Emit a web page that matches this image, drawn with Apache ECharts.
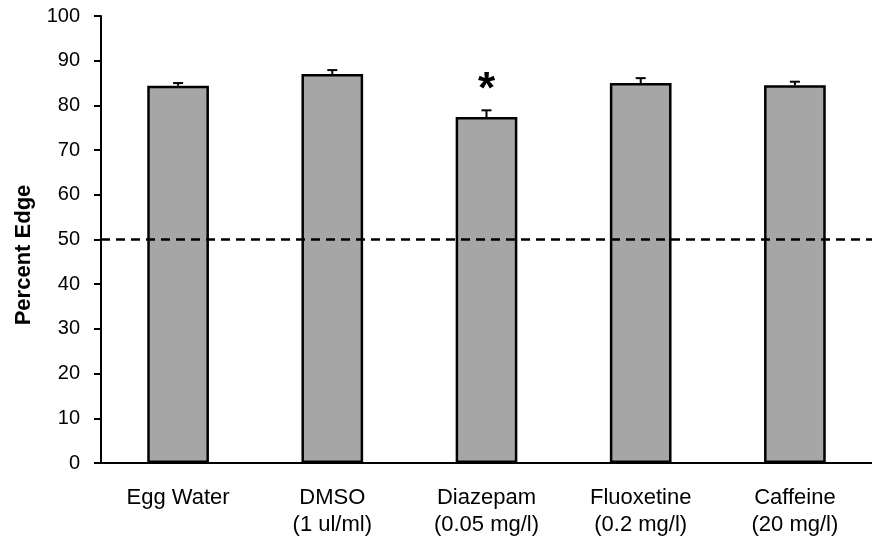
<!DOCTYPE html>
<html><head><meta charset="utf-8">
<script src="https://cdn.jsdelivr.net/npm/echarts@6/dist/echarts.min.js"></script>
<style>html,body{margin:0;padding:0;background:#fff}#c{width:872px;height:542px}</style>
</head><body><div id="c"></div>
<script>
const categories = ["Egg Water", "DMSO\n(1 ul/ml)", "Diazepam\n(0.05 mg/l)", "Fluoxetine\n(0.2 mg/l)", "Caffeine\n(20 mg/l)"];
const means = [84.4, 87.0, 77.4, 85.0, 84.5];
const errors = [0.6, 0.9, 1.5, 1.1, 0.8];
const marks = ["", "", "*", "", ""];
const chanceLevel = 50;
const yTicks = [0, 10, 20, 30, 40, 50, 60, 70, 80, 90, 100];
const yTitle = "Percent Edge";

const chart = echarts.init(document.getElementById('c'));
const font = 'Liberation Sans, Arial, sans-serif';
chart.setOption({
  animation: false,
  grid: { left: 101, right: -5, top: 16, bottom: 79, containLabel: false },
  graphic: [{
    type: 'text', x: 24, y: 255, rotation: Math.PI / 2,
    style: { text: yTitle, fill: '#000', font: 'bold 22px ' + font, align: 'center', verticalAlign: 'middle' }
  }],
  xAxis: {
    type: 'category', data: categories,
    axisLine: { lineStyle: { color: '#000', width: 2 } },
    axisTick: { length: 6, lineStyle: { color: '#000', width: 2 } },
    axisLabel: { color: '#000', fontFamily: font, fontSize: 22, lineHeight: 27, margin: 21 }
  },
  yAxis: {
    type: 'value', min: yTicks[0], max: yTicks[yTicks.length - 1], interval: 10,
    axisLine: { show: true, lineStyle: { color: '#000', width: 2 } },
    axisTick: { show: true, length: 7, lineStyle: { color: '#000', width: 2 } },
    axisLabel: { color: '#000', fontFamily: font, fontSize: 20, margin: 21 },
    splitLine: { show: false }
  },
  series: [
    {
      type: 'bar', data: means, barWidth: '40%',
      itemStyle: { color: '#a6a6a6', borderColor: '#000', borderWidth: 2.5 },
      markLine: {
        silent: true, symbol: 'none', label: { show: false },
        lineStyle: { color: '#000', width: 2.5, type: [9, 6] },
        data: [{ yAxis: chanceLevel }]
      }
    },
    {
      type: 'custom',
      data: means.map((m, i) => [i, m, errors[i]]),
      renderItem: function (params, api) {
        const i = api.value(0), m = api.value(1), e = api.value(2);
        const p0 = api.coord([i, m]);
        const p1 = api.coord([i, m + e]);
        const children = [
          { type: 'line', shape: { x1: p0[0], y1: p0[1], x2: p1[0], y2: p1[1] }, style: { stroke: '#000', lineWidth: 2 } },
          { type: 'line', shape: { x1: p1[0] - 5, y1: p1[1], x2: p1[0] + 5, y2: p1[1] }, style: { stroke: '#000', lineWidth: 2 } }
        ];
        if (marks[i]) {
          children.push({ type: 'text', x: p1[0], y: p1[1] - 19, style: { text: marks[i], fill: '#000', font: 'bold 44px ' + font, align: 'center', verticalAlign: 'middle' } });
        }
        return { type: 'group', children: children };
      },
      z: 5
    }
  ]
});
</script></body></html>
